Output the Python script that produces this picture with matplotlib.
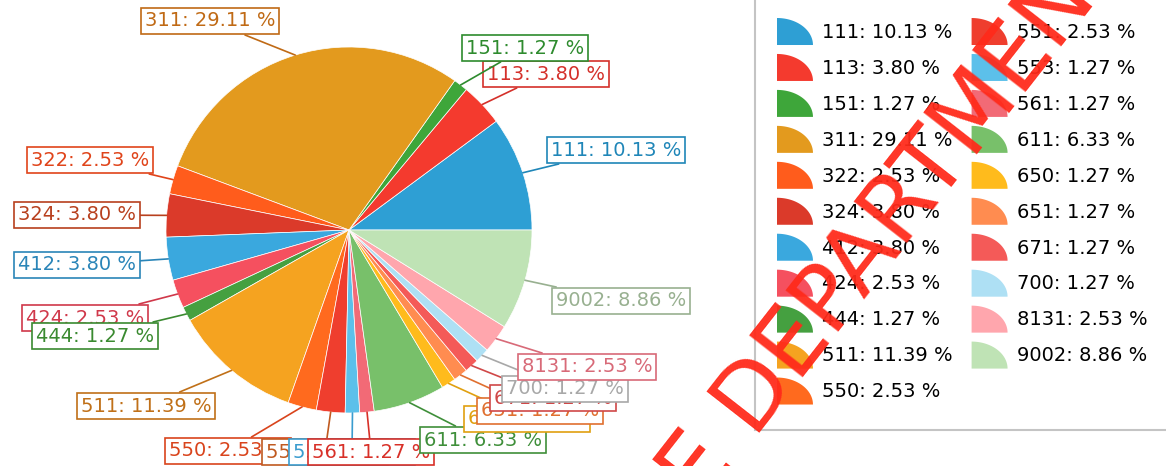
import numpy as np
import matplotlib
matplotlib.use("Agg")
import matplotlib.pyplot as plt
from matplotlib.patches import Wedge, Polygon, Rectangle
from matplotlib.legend_handler import HandlerBase

# category codes and their share (%)
codes = ['111', '113', '151', '311', '322', '324', '412', '424', '444', '511',
         '550', '551', '553', '561', '611', '650', '651', '671', '700', '8131', '9002']
shares = [10.13, 3.80, 1.27, 29.11, 2.53, 3.80, 3.80, 2.53, 1.27, 11.39,
          2.53, 2.53, 1.27, 1.27, 6.33, 1.27, 1.27, 1.27, 1.27, 2.53, 8.86]

# slice colours
pie_colors = ['#2e9fd4', '#f43a2e', '#3ea63a', '#e39a1e', '#ff5c1c', '#db3a2a', '#3aa8de',
              '#f5505f', '#45a040', '#f5a320', '#ff6a1e', '#ef3e2e', '#5cc0ea', '#f26a76',
              '#78c06a', '#ffbb1c', '#ff8c50', '#f45a58', '#aee0f4', '#ffa6ad', '#bfe3b5']
# label text / box colours
label_colors = ['#1f86b8', '#d4302a', '#2e8b2e', '#c06a15', '#e0441a', '#b8401e', '#2a85b8',
                '#d0384a', '#3a8a30', '#c07018', '#d9441c', '#c05a20', '#3a9ccf', '#d83028',
                '#3f8f3a', '#e0a010', '#e07030', '#d04848', '#a8a8a8', '#d86a78', '#98b090']
# label box centres (image pixels, y down)
label_pos = [(616, 150), (546, 74), (525, 48), (210, 21), (90, 160), (77, 215), (77, 265),
             (85, 318), (95, 336), (146, 406), (228, 451), (325, 452), (352, 452), (371, 452),
             (483, 440), (527, 419), (540, 411), (553, 398), (565, 389), (587, 367), (621, 301)]

W, H = 1166, 466
cx, cy, R = 349, H - 230, 183


class QuarterHandler(HandlerBase):
    # legend marker: a quarter of a pie
    def create_artists(self, legend, orig_handle, xdescent, ydescent,
                       width, height, fontsize, trans):
        x0, y0 = -xdescent, -ydescent
        t = np.linspace(0, np.pi / 2, 30)
        pts = [(x0, y0)] + [(x0 + width * np.cos(a), y0 + height * np.sin(a)) for a in t]
        p = Polygon(pts, closed=True, facecolor=orig_handle.get_facecolor(),
                    edgecolor='none', transform=trans)
        return [p]


fig = plt.figure(figsize=(W / 100, H / 100), dpi=100)
ax = fig.add_axes([0, 0, 1, 1])

wedges, _ = ax.pie(shares, colors=pie_colors, startangle=0, counterclock=True,
                   center=(cx, cy), radius=R,
                   wedgeprops=dict(edgecolor='white', linewidth=0.5))
ax.set_aspect('auto')
ax.set_xlim(0, W)
ax.set_ylim(0, H)
ax.axis('off')

for i, w in enumerate(wedges):
    ang = np.deg2rad((w.theta1 + w.theta2) / 2)
    xy = (cx + R * np.cos(ang), cy + R * np.sin(ang))
    lx, ly = label_pos[i]
    tc = label_colors[i]
    ax.annotate(f"{codes[i]}: {shares[i]:.2f} %", xy=xy, xytext=(lx, H - ly),
                ha='center', va='center', fontsize=14, color=tc, zorder=5 + i,
                bbox=dict(boxstyle='square,pad=0.2', fc='white', ec=tc, lw=1.2),
                arrowprops=dict(arrowstyle='-', color=tc, lw=1.2, shrinkA=0, shrinkB=0))

# legend frame
ax.add_patch(Rectangle((755, H - 430), 500, 500, fc='white', ec='#c4c4c4', lw=1.5, zorder=2))

leg_labels = [f"{c}: {s:.2f} %" for c, s in zip(codes, shares)]
ax.legend(wedges, leg_labels, handler_map={Wedge: QuarterHandler()},
          loc='upper left', bbox_to_anchor=(777, H - 18), bbox_transform=ax.transData,
          ncol=2, frameon=False, fontsize=14, borderpad=0, borderaxespad=0,
          handlelength=1.85, handleheight=1.76, handletextpad=0.46,
          labelspacing=0.46, columnspacing=0.98)

# red stamp watermark
ax.text(680, H - 492, "E DEPARTMENT", rotation=52, rotation_mode='anchor',
        ha='left', va='center', fontsize=66, color='#ff2a1a', alpha=0.95, zorder=50)

fig.savefig("out.png", dpi=100)
